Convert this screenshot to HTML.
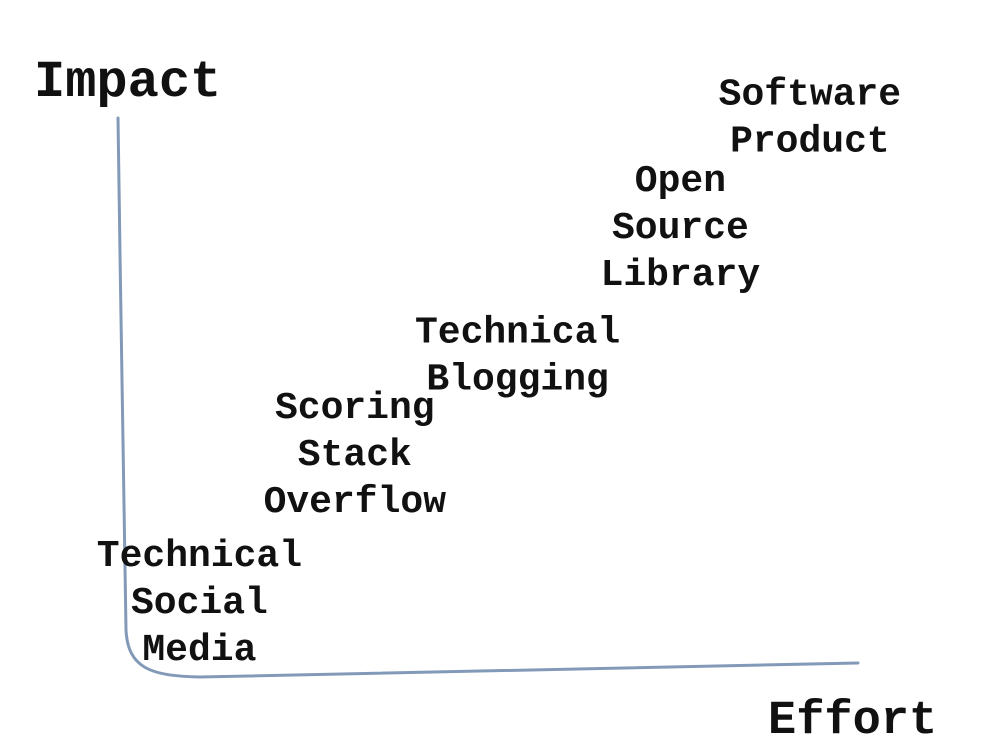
<!DOCTYPE html>
<html>
<head>
<meta charset="utf-8">
<style>
  html,body{margin:0;padding:0;background:#fff;}
  svg{display:block;}
  text{font-family:"Liberation Mono",monospace;fill:#111;font-weight:bold;}
</style>
</head>
<body>
<svg id="chart" width="986" height="750" viewBox="0 0 986 750">
  <path d="M118,118 C121,300 123,520 126,630 C128,668 150,676 200,677 L858,663" fill="none" stroke="#8299b8" stroke-width="3" stroke-linecap="round"/>
  <text x="34" y="96" font-size="52">Impact</text>
  <text x="768" y="733" font-size="47">Effort</text>
  <g id="labels"></g>
</svg>
<script>
const categories = [
  ["Software","Product"],
  ["Open","Source","Library"],
  ["Technical","Blogging"],
  ["Scoring","Stack","Overflow"],
  ["Technical","Social","Media"]
];
const effort = [9.35, 7.6, 5.4, 3.2, 1.1];
const impact = [10.0, 8.0, 5.67, 3.87, 1.18];

function xScale(e){ return 118 + e * 74; }
function yScale(i){ return 665 - i * 55; }

const NS = "http://www.w3.org/2000/svg";
const g = document.getElementById("labels");
const lineH = 47;
categories.forEach((lines, k) => {
  const cx = xScale(effort[k]);
  const cy = yScale(impact[k]);
  const t = document.createElementNS(NS, "text");
  
  
  t.setAttribute("text-anchor", "middle");
  t.setAttribute("font-size", "38");
  const startY = cy - (lines.length - 1) * lineH / 2 + 13;
  lines.forEach((ln, j) => {
    const s = document.createElementNS(NS, "tspan");
    s.setAttribute("x", cx);
    s.setAttribute("y", startY + j * lineH);
    s.textContent = ln;
    t.appendChild(s);
  });
  g.appendChild(t);
});
</script>
</body>
</html>
